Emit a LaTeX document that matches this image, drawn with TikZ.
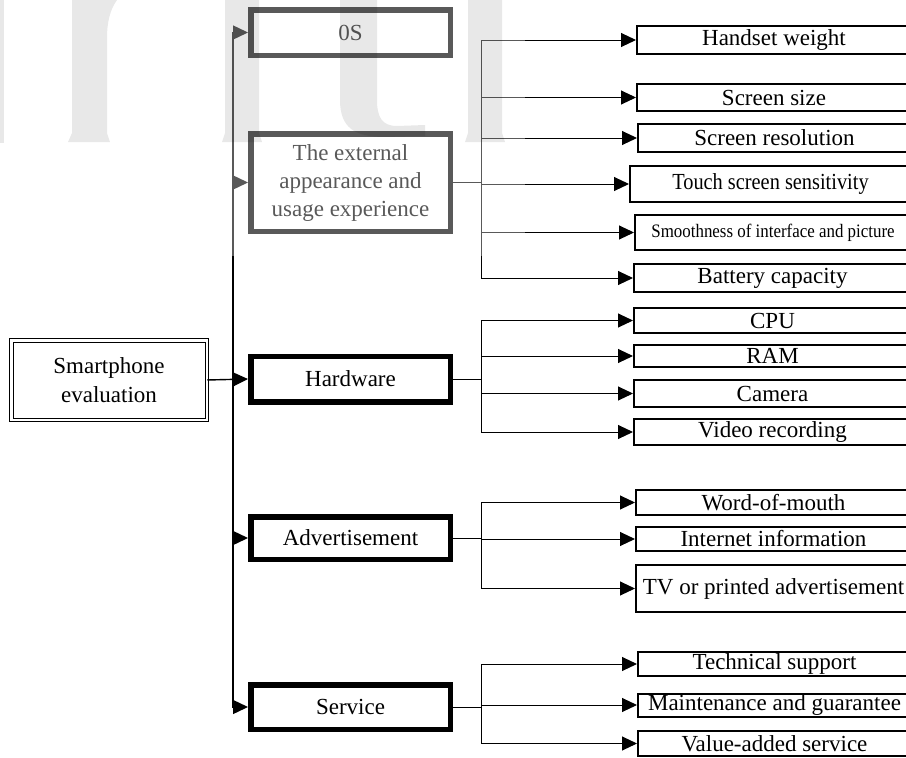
\documentclass[tikz,border=0pt]{standalone}
\usepackage{fontspec}
\setmainfont{Liberation Serif}
\usetikzlibrary{arrows.meta}
\begin{document}
\begin{tikzpicture}[x=1pt,y=-1pt,
  leaf/.style={draw=black, line width=2pt, inner sep=0pt, font=\fontsize{23}{28}\selectfont},
  mid/.style={draw=black, line width=5.5pt, minimum width=199.5pt, inner sep=0pt, align=center, font=\fontsize{23}{28}\selectfont},
  rootbox/.style={draw=black, double, double distance=2.5pt, line width=1pt, minimum width=195.5pt, minimum height=79.5pt, inner sep=0pt, align=center, font=\fontsize{23}{29}\selectfont},
  conn/.style={line width=1pt, draw=black},
  trunk/.style={line width=1.4pt, draw=black},
  arr/.style={-{Triangle[length=15pt,width=14pt]}},
  wmark/.style={fill=black, fill opacity=0.09}]
\useasboundingbox (0,0) rectangle (906,758);
\clip (0,0) rectangle (906,758);
\coordinate (tx) at (233,0);
\coordinate (bx) at (481,0);

% root and second level
\node[rootbox] (root) at (109,380) {Smartphone\\evaluation};
\node[mid, minimum height=45.5pt] (os) at (350.5,32.5) {0S};
\node[mid, minimum height=97.5pt] (ext) at (350.5,182.5) {The external\\appearance and\\usage experience};
\node[mid, minimum height=45.5pt] (hwd) at (350.5,379) {Hardware};
\node[mid, minimum height=42.5pt] (adv) at (350.5,538) {Advertisement};
\node[mid, minimum height=44.5pt] (svc) at (350.5,707) {Service};

% leaves
\node[leaf, minimum width=274pt, minimum height=28pt] (hw) at (774,40) {Handset weight};
\node[leaf, minimum width=274pt, minimum height=27pt] (ss) at (774,97.5) {Screen size};
\node[leaf, minimum width=273pt, minimum height=28pt] (sr) at (774.5,138) {Screen resolution};
\node[leaf, minimum width=281pt, minimum height=36pt] (ts) at (770.5,184) {\scalebox{0.885}[1]{Touch screen sensitivity}};
\node[leaf, minimum width=276pt, minimum height=35pt] (sm) at (773,232.5) {\scalebox{0.89}[1]{\fontsize{19}{19}\selectfont Smoothness of interface and picture}};
\node[leaf, minimum width=277pt, minimum height=28pt] (bc) at (772.5,278) {Battery capacity};
\node[leaf, minimum width=277pt, minimum height=25pt] (cpu) at (772.5,320.5) {CPU};
\node[leaf, minimum width=277pt, minimum height=22pt] (ram) at (772.5,356) {RAM};
\node[leaf, minimum width=277pt, minimum height=27pt] (cam) at (772.5,393.5) {Camera};
\node[leaf, minimum width=277pt, minimum height=26pt] (vid) at (772.5,432) {Video recording};
\node[leaf, minimum width=275pt, minimum height=25pt] (wom) at (773.5,502.5) {Word-of-mouth};
\node[leaf, minimum width=275pt, minimum height=24pt] (ii) at (773.5,539) {Internet information};
\node[leaf, minimum width=275pt, minimum height=47pt] (tv) at (773.5,588.5) {TV or printed advertisement};
\node[leaf, minimum width=273pt, minimum height=24pt] (tsup) at (774.5,664) {Technical support};
\node[leaf, minimum width=273pt, minimum height=23pt] (mg) at (774.5,705) {Maintenance and guarantee};
\node[leaf, minimum width=273pt, minimum height=25pt] (va) at (774.5,743.5) {Value-added service};

% trunk connectors
\draw[trunk,arr] (root.east) -- (hwd.west);
\foreach \m in {os,ext,adv,svc}
  \draw[trunk,arr] (root.east -| tx) |- (\m.west);

% branch connectors
\foreach \l in {hw,ss,sr,ts,sm,bc}
  \draw[conn,arr] (ext.east) -- (ext.east -| bx) |- (\l.west);
\foreach \l in {cpu,ram,cam,vid}
  \draw[conn,arr] (hwd.east) -- (hwd.east -| bx) |- (\l.west);
\foreach \l in {wom,ii,tv}
  \draw[conn,arr] (adv.east) -- (adv.east -| bx) |- (\l.west);
\foreach \l in {tsup,mg,va}
  \draw[conn,arr] (svc.east) -- (svc.east -| bx) |- (\l.west);

% washed-out watermark area
\fill[white, fill opacity=0.35] (0,0) rectangle (525,256);
\fill[wmark] (0,0) rectangle (4,143);
\fill[wmark] (117,0) .. controls (110,10) and (107,22) .. (107,38) -- (107,133) -- (110,142) -- (68,142) -- (72,133) -- (72,0) -- cycle;
\fill[wmark] (225,0) -- (225,133) -- (222,142) -- (262,142) -- (259,133) -- (259,0) -- cycle;
\fill[wmark] (340,0) -- (340,100) .. controls (340,128) and (355,137) .. (385,137) -- (425,136) -- (425,125) -- (397,126) .. controls (382,126) and (377,117) .. (377,100) -- (377,0) -- cycle;
\fill[wmark] (468,0) -- (468,133) -- (465,142) -- (505,142) -- (502,133) -- (502,0) -- cycle;
\end{tikzpicture}
\end{document}
